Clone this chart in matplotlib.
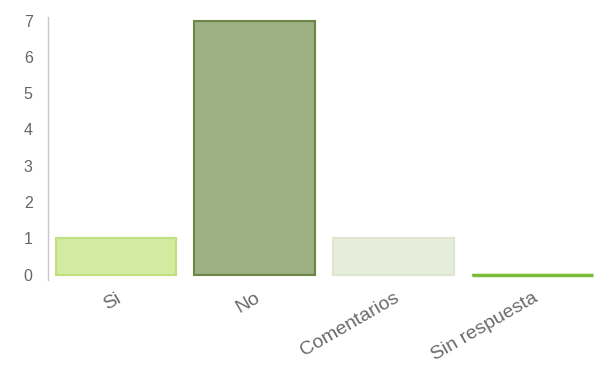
import matplotlib
matplotlib.use('Agg')
import matplotlib.pyplot as plt

plt.rcParams['font.family'] = ['Liberation Sans', 'DejaVu Sans']

# Datos de la encuesta
categorias = ['Si', 'No', 'Comentarios', 'Sin respuesta']
valores = [1, 7, 1, 0]
colores_relleno = ['#d3eba0', '#9cb083', '#e7eddb', '#7cbb3a']
colores_borde = ['#bfe07e', '#6a8745', '#dfe6cf', '#7cbb3a']
y_ticks = [0, 1, 2, 3, 4, 5, 6, 7]

fig = plt.figure(figsize=(6.03, 3.65), dpi=100)
ax = fig.add_axes([48 / 603, 85 / 365, 555 / 603, 263 / 365])

x = list(range(len(categorias)))
ax.bar(x, valores, width=0.87, color=colores_relleno,
       edgecolor=colores_borde, linewidth=1.5)

# Barra de valor cero: se dibuja como linea verde
for i, v in enumerate(valores):
    if v == 0:
        ax.plot([i - 0.435, i + 0.435], [0, 0], color=colores_relleno[i],
                linewidth=2.5, solid_capstyle='butt')

ax.set_xlim(-0.49, 3.51)
ax.set_ylim(-0.15, 7.1)
ax.set_yticks(y_ticks)
ax.set_yticklabels([str(t) for t in y_ticks], fontsize=11.5, color='#666666')
ax.set_xticks(x)
ax.set_xticklabels(categorias, fontsize=14, color='#6a6a6a',
                   rotation=30, ha='right', rotation_mode='anchor')
ax.tick_params(axis='both', length=0)
ax.tick_params(axis='y', pad=11)
ax.tick_params(axis='x', pad=7)

for lado in ['top', 'right', 'bottom']:
    ax.spines[lado].set_visible(False)
ax.spines['left'].set_color('#c8c8c8')
ax.spines['left'].set_linewidth(1)

plt.savefig('out.png', dpi=100)
plt.close()
